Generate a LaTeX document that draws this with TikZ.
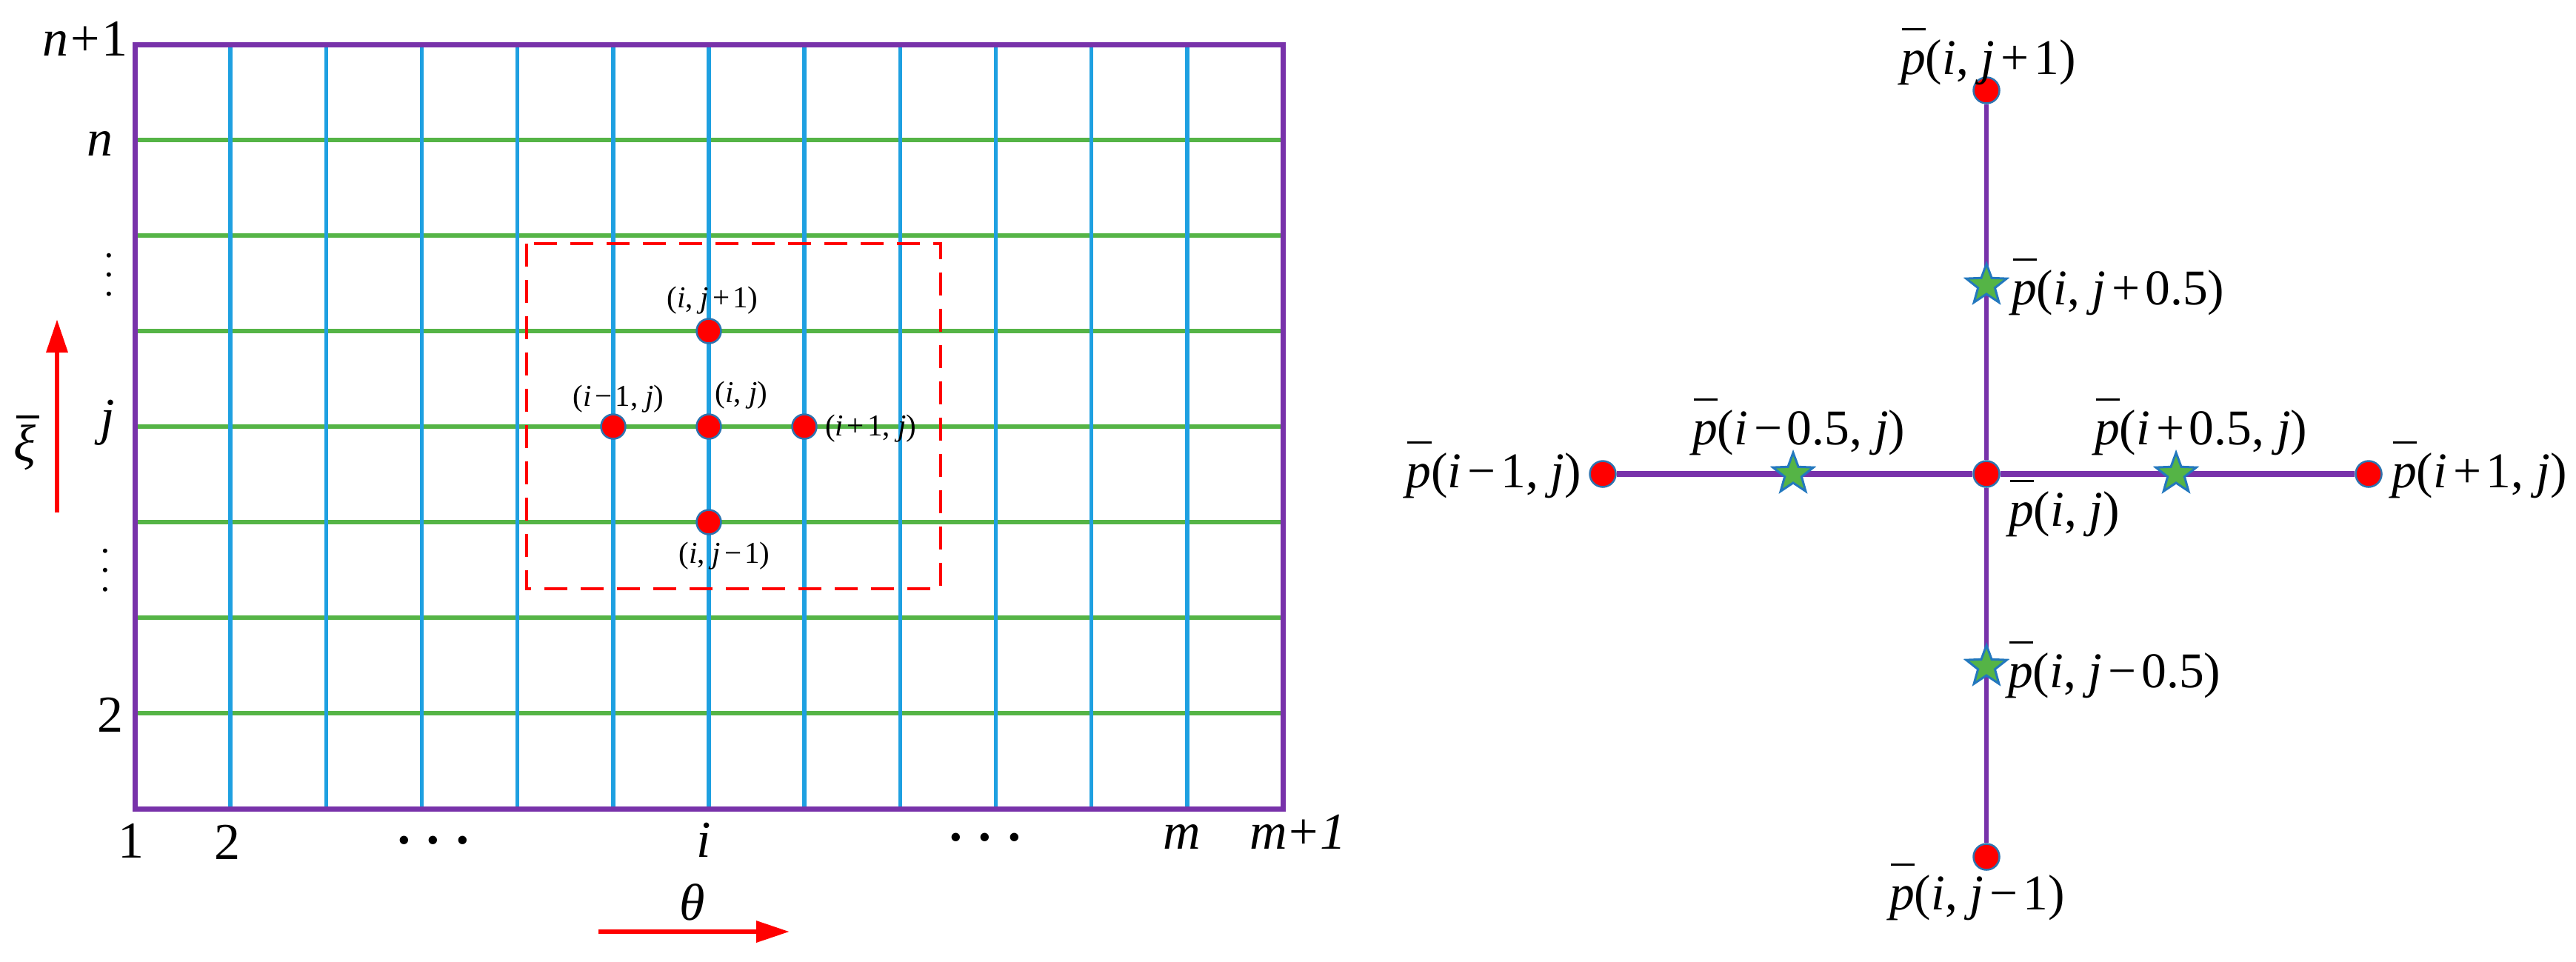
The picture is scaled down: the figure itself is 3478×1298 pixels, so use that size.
\documentclass[tikz,border=0pt]{standalone}
\usepackage{fontspec}
\setmainfont{Liberation Serif}
\usetikzlibrary{arrows.meta,shapes.geometric,backgrounds}
\definecolor{frameP}{RGB}{120,50,170}
\definecolor{gridB}{RGB}{30,160,225}
\definecolor{gridG}{RGB}{85,180,70}
\definecolor{dotB}{RGB}{45,115,175}
\definecolor{starB}{RGB}{35,120,190}
\newcommand{\pb}{\makebox[0pt][l]{\kern0.03em\raisebox{0.88em}{\rule{0.48em}{0.045em}}}\textit{p}}
\newcommand{\xib}{\makebox[0pt][l]{\kern0.05em\raisebox{0.82em}{\rule{0.45em}{0.045em}}}\textit{ξ}}
\newcommand{\mns}{\kern0.12em−\kern0.1em}
\newcommand{\pls}{\kern0.12em+\kern0.1em}
\begin{document}
\begin{tikzpicture}[x=0.2pt,y=-0.2pt,
  bigl/.style={font=\fontsize{14}{16}\selectfont, inner sep=0pt},
  smalll/.style={font=\fontsize{8.2}{10}\selectfont, inner sep=0pt},
  pl/.style={font=\fontsize{13.5}{16}\selectfont, inner sep=0pt},
  vdotsl/.style={font=\fontsize{5}{5.2}\selectfont, align=center, inner sep=0pt},
  hdotsl/.style={font=\fontsize{9.5}{11}\selectfont, inner sep=0pt},
  frameline/.style={draw=frameP, line width=1.4pt},
  bline/.style={draw=gridB, line width=1.1pt},
  gline/.style={draw=gridG, line width=1.3pt},
  dashbox/.style={draw=red, line width=0.85pt, dash pattern=on 6.2pt off 3.6pt},
  gdot/.style={circle, fill=red, draw=dotB, line width=0.5pt, minimum size=6.6pt, inner sep=0pt},
  rdot/.style={gdot, minimum size=7pt},
  hstar/.style={star, star points=5, star point ratio=2.4, fill=gridG, draw=starB, line width=0.6pt, minimum size=11.5pt, inner sep=0pt},
  plinkh/.style={draw=frameP, line width=1.45pt},
  plinkv/.style={draw=frameP, line width=1.1pt},
  redarrow/.style={draw=red, line width=1.3pt, -{Triangle[length=9pt,width=5.6pt]}}
]
\useasboundingbox (0,0) rectangle (3478,1298);

% ---------- left panel: grid ----------
\foreach \k in {1,...,7}
  \draw[gline] (182,{60+129*\k}) -- (1732,{60+129*\k});
\foreach \k in {1,...,11}
  \draw[bline] ({182+129.17*\k},60) -- ({182+129.17*\k},1092);
\draw[frameline] (182,60) rectangle (1732,1092);
\draw[dashbox] (711,329) rectangle (1270,795);

% grid points
\node[gdot] (gC) at (957,576) {};
\node[gdot] (gL) at (828,576) {};
\node[gdot] (gR) at (1086,576) {};
\node[gdot] (gT) at (957,447) {};
\node[gdot] (gB) at (957,705) {};

\node[smalll, anchor=base] (lT) at (962,415) {(\textit{i}, \textit{j}\pls1)};
\node[smalll, anchor=base] (lL) at (835,548) {(\textit{i}\mns1, \textit{j})};
\node[smalll, anchor=base] (lC) at (1001,543) {(\textit{i}, \textit{j})};
\node[smalll, anchor=base west] (lR) at (1113,588) {(\textit{i}\pls1, \textit{j})};
\node[smalll, anchor=base] (lB) at (978,760) {(\textit{i}, \textit{j}\mns1)};

% axis labels
\node[bigl, anchor=base east] (yN1) at (174,75) {\textit{n}\kern0.04em+\kern0.04em1};
\node[bigl, anchor=base] (yN) at (135,210) {\textit{n}};
\node[vdotsl] (yD1) at (147,374) {•\\•\\•};
\node[bigl, anchor=base] (yJ) at (145,586) {\textit{j}};
\node[vdotsl] (yD2) at (142,773) {•\\•\\•};
\node[bigl, anchor=base] (y2) at (149,988) {2};
\node[bigl, anchor=base] (x1) at (177,1158) {1};
\node[bigl, anchor=base] (x2) at (307,1160) {2};
\node[hdotsl] (xD1) at (585,1140) {•\kern4.6pt•\kern4.6pt•};
\node[bigl, anchor=base] (xI) at (950,1157) {\textit{i}};
\node[hdotsl] (xD2) at (1330,1136) {•\kern4.6pt•\kern4.6pt•};
\node[bigl, anchor=base] (xM) at (1596,1146) {\textit{m}};
\node[bigl, anchor=base west] (xM1) at (1686,1146) {\textit{m}\kern0.04em+\kern0.04em\textit{1}};

% direction arrows
\coordinate (thS) at (808,1258);
\coordinate (thE) at (1066,1258);
\draw[redarrow] (thS) -- (thE);
\node[bigl, anchor=base] (theta) at (935,1242) {\textit{θ}};
\coordinate (xiS) at (77,692);
\coordinate (xiE) at (77,431);
\draw[redarrow] (xiS) -- (xiE);
\node[bigl, anchor=base] (xi) at (33,622) {\xib};

% ---------- right panel: stencil ----------
\node[rdot] (pC) at (2682,640) {};
\node[rdot] (pL) at (2164,640) {};
\node[rdot] (pR) at (3198,640) {};
\node[rdot] (pT) at (2682,122) {};
\node[rdot] (pB) at (2682,1157) {};
\node[hstar] (sL) at (2421,640) {};
\node[hstar] (sR) at (2938,640) {};
\node[hstar] (sT) at (2682,385) {};
\node[hstar] (sB) at (2682,900) {};
\begin{pgfonlayer}{background}
\draw[plinkh] (pL) -- (pC);
\draw[plinkh] (pC) -- (pR);
\draw[plinkv] (pT) -- (pC);
\draw[plinkv] (pC) -- (pB);
\end{pgfonlayer}

\node[pl, anchor=base west] (tT) at (2565,100) {\pb(\textit{i}, \textit{j}\pls1)};
\node[pl, anchor=base west] (tsT) at (2715,411) {\pb(\textit{i}, \textit{j}\pls0.5)};
\node[pl, anchor=base east] (tL) at (2136,658) {\pb(\textit{i}\mns1, \textit{j})};
\node[pl, anchor=base west] (tsL) at (2284,600) {\pb(\textit{i}\mns0.5, \textit{j})};
\node[pl, anchor=base west] (tC) at (2711,710) {\pb(\textit{i}, \textit{j})};
\node[pl, anchor=base west] (tsR) at (2827,600) {\pb(\textit{i}\pls0.5, \textit{j})};
\node[pl, anchor=base west] (tR) at (3228,658) {\pb(\textit{i}\pls1, \textit{j})};
\node[pl, anchor=base west] (tsB) at (2710,928) {\pb(\textit{i}, \textit{j}\mns0.5)};
\node[pl, anchor=base west] (tB) at (2550,1228) {\pb(\textit{i}, \textit{j}\mns1)};
\end{tikzpicture}
\end{document}
